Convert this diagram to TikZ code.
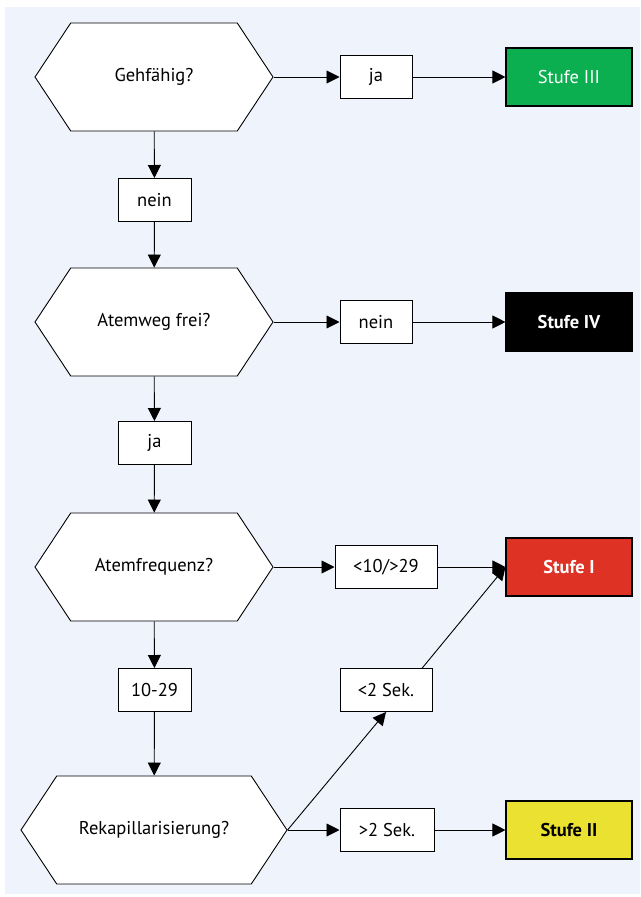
\documentclass[tikz,border=0pt]{standalone}
\usepackage{fontspec}
\setmainfont{PT Sans}
\usetikzlibrary{shapes.symbols,arrows.meta,backgrounds}
\definecolor{hgblau}{HTML}{EEF3FC}
\definecolor{gruen}{HTML}{0BAF50}
\definecolor{rot}{HTML}{DE3224}
\definecolor{gelb}{HTML}{EBE130}
\begin{document}
\begin{tikzpicture}[
    x=1pt,y=-1pt,
    every node/.style={font=\fontsize{18.5}{22}\selectfont},
    frage/.style={signal,signal to=east and west,signal pointer angle=113,draw,fill=white,line width=0.9pt,minimum width=238pt,minimum height=108pt,inner sep=0pt},
    antwort/.style={rectangle,draw,fill=white,line width=1pt,minimum height=43pt,inner sep=0pt},
    stufe/.style={rectangle,draw,line width=1.1pt,minimum width=126pt,minimum height=58pt,inner sep=0pt},
    pfeil/.style={-{Triangle[length=13pt,width=13pt]},line width=0.9pt}
]
\useasboundingbox (0,0) rectangle (640,897);

% Fragen (links)
\node[frage] (q1) at (154,77) {Gehfähig?};
\node[frage] (q2) at (154,322) {Atemweg frei?};
\node[frage] (q3) at (154,567) {Atemfrequenz?};
\node[frage,minimum width=266pt] (q4) at (154,830) {Rekapillarisierung?};

% Antworten (Mitte)
\node[antwort,minimum width=73pt] (a1) at (154.5,200) {nein};
\node[antwort,minimum width=73pt] (a2) at (154.5,443) {ja};
\node[antwort,minimum width=73pt] (a3) at (154.5,690) {10-29};
\node[antwort,minimum width=72pt] (r1) at (376,77) {ja};
\node[antwort,minimum width=72pt] (r2) at (376,322) {nein};
\node[antwort,minimum width=102pt] (r3) at (386,567) {<10/>29};
\node[antwort,minimum width=92pt] (r4) at (386,690) {<2 Sek.};
\node[antwort,minimum width=94pt] (r5) at (387,830) {>2 Sek.};

% Stufen (rechts)
\node[stufe,fill=gruen,text=white] (s3) at (569,77) {Stufe III};
\node[stufe,fill=black,text=white,font=\fontsize{18.5}{22}\selectfont\bfseries] (s4) at (569,322) {Stufe IV};
\node[stufe,fill=rot,text=white,font=\fontsize{18.5}{22}\selectfont\bfseries] (s1) at (569,567) {Stufe I};
\node[stufe,fill=gelb,font=\fontsize{18.5}{22}\selectfont\bfseries] (s2) at (569,830) {Stufe II};

% Pfeile
\draw[pfeil] (q1) -- (a1);
\draw[pfeil] (a1) -- (q2);
\draw[pfeil] (q2) -- (a2);
\draw[pfeil] (a2) -- (q3);
\draw[pfeil] (q3) -- (a3);
\draw[pfeil] (a3) -- (q4);

\draw[pfeil] (q1.east) -- (r1);
\draw[pfeil] (r1) -- (s3.west);
\draw[pfeil] (q2.east) -- (r2);
\draw[pfeil] (r2) -- (s4.west);
\draw[pfeil] (q3.east) -- (r3);
\draw[pfeil] (r3) -- (s1.west);
\draw[pfeil] (q4.east) -- (r5);
\draw[pfeil] (r5) -- (s2.west);

\draw[pfeil] (q4.east) -- (r4.south);
\begin{pgfonlayer}{background}
\fill[hgblau] (5,7) rectangle (640,894);
\draw[pfeil] (r4.south) -- (s1.west);
\end{pgfonlayer}

\end{tikzpicture}
\end{document}
